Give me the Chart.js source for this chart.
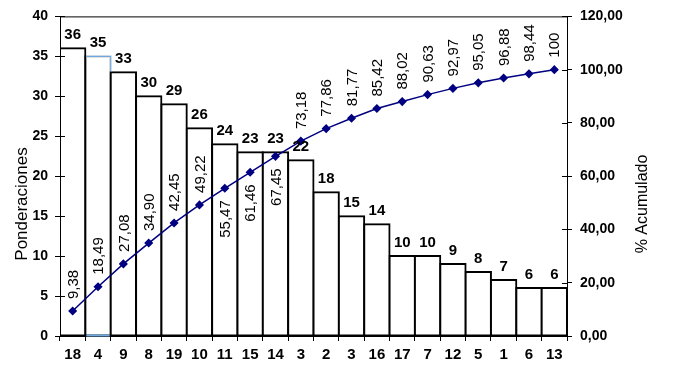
<!DOCTYPE html>
<html>
<head>
<meta charset="utf-8">
<script src="https://cdn.jsdelivr.net/npm/chart.js@4"></script>
<style>
  html, body { margin: 0; padding: 0; background: #fff; }
  #wrap { width: 674px; height: 378px; }
</style>
</head>
<body>
<div id="wrap"><canvas id="pareto"></canvas></div>
<script>
// datos del diagrama de Pareto
const categorias = ['18', '4', '9', '8', '19', '10', '11', '15', '14', '3', '2', '3', '16', '17', '7', '12', '5', '1', '6', '13'];
const ponderaciones = [36, 35, 33, 30, 29, 26, 24, 23, 23, 22, 18, 15, 14, 10, 10, 9, 8, 7, 6, 6];
const acumulado = [9.38, 18.49, 27.08, 34.90, 42.45, 49.22, 55.47, 61.46, 67.45, 73.18, 77.86, 81.77, 85.42, 88.02, 90.63, 92.97, 95.05, 96.88, 98.44, 100];
// etiquetas del acumulado que van debajo del punto
const debajo = [6, 7, 8];

const fuente = 'Arial, "Liberation Sans", sans-serif';
const fmt = v => Number.isInteger(v) ? String(v) : v.toFixed(2).replace('.', ',');

const extras = {
    id: 'extras',
    afterDatasetDraw(chart, args) {
        // la segunda barra tiene el contorno azul claro (fino) arriba, a la derecha y abajo
        if (args.index !== 1) return;
        const ctx = chart.ctx;
        const barras = chart.getDatasetMeta(1).data;
        const b = barras[1];
        const sig = barras[2];
        const izq = b.x - b.width / 2;
        const der = b.x + b.width / 2;
        ctx.save();
        ctx.fillStyle = '#fff';
        ctx.fillRect(izq + 1, b.y - 1.2, der - izq, 2.4);
        ctx.fillRect(der - 1.2, b.y - 1, 2.4, sig.y - 1 - b.y + 1);
        ctx.strokeStyle = '#6fa8dc';
        ctx.lineWidth = 1.2;
        ctx.beginPath();
        ctx.moveTo(izq + 1, b.y);
        ctx.lineTo(der, b.y);
        ctx.lineTo(der, sig.y - 1);
        ctx.stroke();
        ctx.lineWidth = 2;
        ctx.beginPath();
        ctx.moveTo(izq + 1, b.base);
        ctx.lineTo(der - 1, b.base);
        ctx.stroke();
        ctx.restore();
    },
    afterDraw(chart) {
        const ctx = chart.ctx;
        const a = chart.chartArea;
        const s = chart.scales;
        ctx.save();
        ctx.strokeStyle = '#000';
        ctx.lineWidth = 1;
        // borde superior
        ctx.beginPath();
        ctx.moveTo(a.left, a.top + 0.5);
        ctx.lineTo(a.right, a.top + 0.5);
        ctx.stroke();
        // marcas hacia dentro
        ctx.beginPath();
        s.y.ticks.forEach(t => {
            const y = Math.round(s.y.getPixelForValue(t.value)) + 0.5;
            ctx.moveTo(a.left, y);
            ctx.lineTo(a.left + 5, y);
        });
        s.y1.ticks.forEach(t => {
            const y = Math.round(s.y1.getPixelForValue(t.value)) + 0.5;
            ctx.moveTo(a.right - 5, y);
            ctx.lineTo(a.right, y);
        });
        ctx.stroke();

        // valores de las barras
        ctx.fillStyle = '#000';
        ctx.font = 'bold 15px ' + fuente;
        ctx.textAlign = 'center';
        ctx.textBaseline = 'alphabetic';
        chart.getDatasetMeta(1).data.forEach((b, i) => {
            const y = s.y.getPixelForValue(ponderaciones[i]);
            ctx.fillText(String(ponderaciones[i]), b.x, y - 9);
        });

        // valores del acumulado (verticales)
        ctx.font = '15px ' + fuente;
        chart.getDatasetMeta(0).data.forEach((p, i) => {
            const abajo = debajo.includes(i);
            ctx.save();
            ctx.translate(p.x, p.y);
            ctx.rotate(-Math.PI / 2);
            ctx.textAlign = abajo ? 'right' : 'left';
            ctx.textBaseline = 'middle';
            ctx.fillText(fmt(acumulado[i]), abajo ? -12 : 12, 1);
            ctx.restore();
        });

        // títulos de los ejes
        ctx.textAlign = 'center';
        ctx.textBaseline = 'middle';
        ctx.font = '17px ' + fuente;
        ctx.save();
        ctx.translate(22, 204);
        ctx.rotate(-Math.PI / 2);
        ctx.fillText('Ponderaciones', 0, 0);
        ctx.restore();
        ctx.font = '16px ' + fuente;
        ctx.save();
        ctx.translate(643, 204);
        ctx.rotate(-Math.PI / 2);
        ctx.fillText('% Acumulado', 0, 0);
        ctx.restore();
        ctx.restore();
    }
};

const ctx = document.getElementById('pareto');
new Chart(ctx, {
    data: {
        labels: categorias,
        datasets: [{
            type: 'line',
            label: '% Acumulado',
            data: acumulado,
            yAxisID: 'y1',
            borderColor: '#000080',
            backgroundColor: '#000080',
            borderWidth: 1.5,
            pointStyle: 'rectRot',
            pointRadius: 3.5,
            tension: 0,
            order: 0,
        }, {
            type: 'bar',
            label: 'Ponderaciones',
            data: ponderaciones,
            yAxisID: 'y',
            backgroundColor: '#fff',
            borderColor: '#000',
            borderWidth: 2,
            borderSkipped: false,
            inflateAmount: 1,
            barPercentage: 1,
            categoryPercentage: 1,
            order: 1,
        }],
    },
    options: {
        responsive: true,
        maintainAspectRatio: false,
        animation: false,
        layout: { padding: { top: 15, left: 0, right: 0, bottom: 0 } },
        plugins: {
            legend: { display: false },
            tooltip: { enabled: false },
        },
        scales: {
            x: {
                grid: { offset: true, drawOnChartArea: false, tickLength: 5, color: '#000' },
                border: { color: '#000', width: 1 },
                ticks: { color: '#000', font: { family: fuente, size: 15, weight: 'bold' }, padding: 5, maxRotation: 0, autoSkip: false },
                afterFit: sc => { sc.height = 42; },
            },
            y: {
                position: 'left',
                min: 0,
                max: 40,
                grid: { drawOnChartArea: false, tickLength: 5, color: '#000' },
                border: { color: '#000', width: 1 },
                ticks: { stepSize: 5, color: '#000', font: { family: fuente, size: 14, weight: 'bold' }, padding: 7 },
                afterFit: sc => { sc.width = 60; },
            },
            y1: {
                position: 'right',
                min: 0,
                max: 120,
                grid: { drawOnChartArea: false, tickLength: 5, color: '#000' },
                border: { color: '#000', width: 1 },
                ticks: { stepSize: 20, color: '#000', font: { family: fuente, size: 14, weight: 'bold' }, padding: 8, callback: v => v.toFixed(2).replace('.', ',') },
                afterFit: sc => { sc.width = 107; },
            },
        },
    },
    plugins: [extras],
});
</script>
</body>
</html>
